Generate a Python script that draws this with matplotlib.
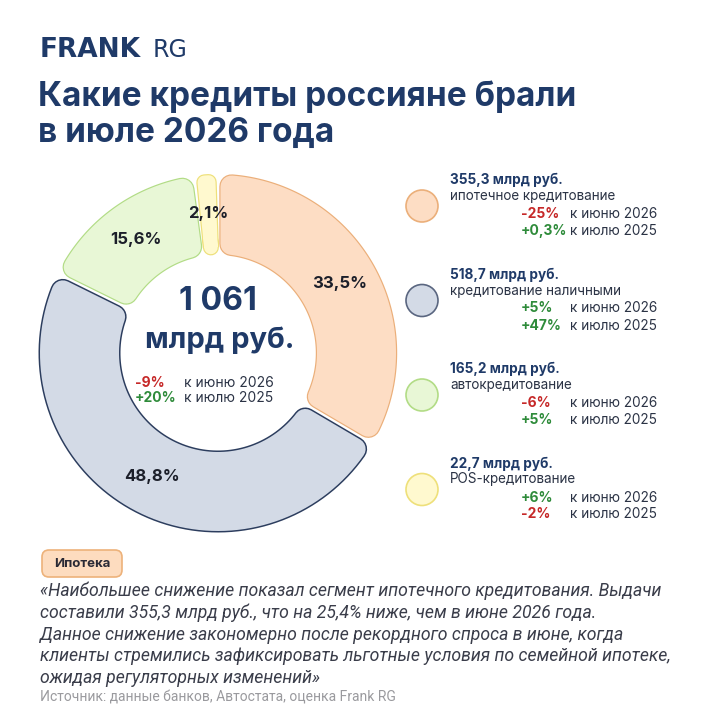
import matplotlib
matplotlib.use("Agg")
import matplotlib.pyplot as plt
import numpy as np
from matplotlib.path import Path
from matplotlib.patches import Circle, FancyBboxPatch, PathPatch

# data
segments = ["ипотечное кредитование", "кредитование наличными",
            "автокредитование", "POS-кредитование"]
volumes = [355.3, 518.7, 165.2, 22.7]          # млрд руб.
vs_june = ["-25%", "+5%", "-6%", "+6%"]
vs_last_july = ["+0,3%", "+47%", "+5%", "-2%"]
total_label = "1 061"
total_vs_june = "-9%"
total_vs_july = "+20%"

face_colors = ["#FDDDC4", "#D3DAE6", "#E8F7D6", "#FFF9CF"]
edge_colors = ["#EBAF7A", "#2C3D5E", "#B2DC86", "#EEE07A"]

NAVY = "#1F3A68"
TEXT = "#2B3345"
RED = "#C62828"
GREEN = "#2E8B3A"
HEAD = "Inter"

quote = ("«Наибольшее снижение показал сегмент ипотечного кредитования. Выдачи\n"
         "составили 355,3 млрд руб., что на 25,4% ниже, чем в июне 2026 года.\n"
         "Данное снижение закономерно после рекордного спроса в июне, когда\n"
         "клиенты стремились зафиксировать льготные условия по семейной ипотеке,\n"
         "ожидая регуляторных изменений»")
source = "Источник: данные банков, Автостата, оценка Frank RG"


def sign_color(s):
    return RED if s.startswith("-") else GREEN


def rounded_sector(a0, a1, r_in, r_out, d):
    """annular sector from a0 down to a1 (deg, clockwise), radial sides
    pulled in parallel by d so the gap has constant width"""
    def ends(r):
        off = np.degrees(np.arcsin(min(d / r, 1)))
        s, e = a0 - off, a1 + off
        if s < e:
            s = e = (a0 + a1) / 2
        return s, e
    so, eo = ends(r_out)
    si, ei = ends(r_in)
    t_out = np.radians(np.linspace(so, eo, 80))
    t_in = np.radians(np.linspace(ei, si, 80))
    xs = np.r_[r_out * np.cos(t_out), r_in * np.cos(t_in)]
    ys = np.r_[r_out * np.sin(t_out), r_in * np.sin(t_in)]
    verts = np.c_[xs, ys]
    verts = np.vstack([verts, verts[:1]])
    codes = [Path.MOVETO] + [Path.LINETO] * (len(verts) - 2) + [Path.CLOSEPOLY]
    return Path(verts, codes)


fig = plt.figure(figsize=(7.2, 7.2), dpi=100)
fig.patch.set_facecolor("white")

# donut, axes units = pixels
cx, cy = 218, 353
ax = fig.add_axes([(cx - 200) / 720, (720 - cy - 200) / 720, 400 / 720, 400 / 720])
ax.set_xlim(-200, 200)
ax.set_ylim(-200, 200)
ax.set_aspect("equal")
ax.axis("off")

R_OUT, R_IN = 178, 99
corner = 11         # px, rounding radius
half_gap = 2.5
px2pt = 72 / 100

vals = np.array(volumes)
shares = vals / vals.sum() * 100
bounds = 90 - np.r_[0, np.cumsum(vals)] / vals.sum() * 360
for i in range(len(vals)):
    span = np.radians(bounds[i] - bounds[i + 1])
    # thin slices get a smaller rounding so they stay inside their share
    c = min(corner, max(span * (R_IN + R_OUT) / 4 - half_gap, 3))
    path = rounded_sector(bounds[i], bounds[i + 1], R_IN + c,
                          R_OUT - c, half_gap + c)
    border = 3.0 if i == 1 else 2.4
    ax.add_patch(PathPatch(path, facecolor=face_colors[i], edgecolor=edge_colors[i],
                           lw=(2 * c + border) * px2pt, joinstyle="round"))
    ax.add_patch(PathPatch(path, facecolor=face_colors[i], edgecolor=face_colors[i],
                           lw=2 * c * px2pt, joinstyle="round"))
    mid = np.radians((bounds[i] + bounds[i + 1]) / 2)
    rl = 140
    ax.text(rl * np.cos(mid), rl * np.sin(mid),
            f"{shares[i]:.1f}%".replace(".", ","), fontsize=12, fontweight="bold",
            color="#1C1F2A", family=HEAD, ha="center", va="center", zorder=5)

# overlay for text, pixel coordinates
ov = fig.add_axes([0, 0, 1, 1], zorder=3)
ov.set_xlim(0, 720)
ov.set_ylim(720, 0)
ov.axis("off")
ov.patch.set_alpha(0)

ov.text(40, 50, "FRANK", fontsize=19, fontweight="bold", color=NAVY,
        family="DejaVu Sans", va="center", ha="left")
ov.text(153, 50, "RG", fontsize=17, color=NAVY, family="DejaVu Sans",
        va="center", ha="left")
ov.text(38, 97, "Какие кредиты россияне брали", fontsize=24, fontweight="bold",
        color=NAVY, family=HEAD, va="center", ha="left")
ov.text(38, 133, "в июле 2026 года", fontsize=24, fontweight="bold",
        color=NAVY, family=HEAD, va="center", ha="left")

# centre of the donut
ov.text(218, 302, total_label, fontsize=23, fontweight="bold", color=NAVY,
        family=HEAD, ha="center", va="center")
ov.text(220, 340, "млрд руб.", fontsize=21, fontweight="bold", color=NAVY,
        family=HEAD, ha="center", va="center")
for yy, val, lab in [(383, total_vs_june, "к июню 2026"),
                     (398, total_vs_july, "к июлю 2025")]:
    ov.text(135, yy, val, fontsize=10, fontweight="bold", color=sign_color(val),
            family=HEAD, va="center")
    ov.text(184, yy, lab, fontsize=10, color=TEXT, family=HEAD, va="center")

# legend
for i, (name, vol, j, y) in enumerate(zip(segments, volumes, vs_june, vs_last_july)):
    top = 180 + i * 94.5
    ov.add_patch(Circle((422, top + 26), 16, facecolor=face_colors[i],
                        edgecolor=edge_colors[i] if i != 1 else "#5A6680", lw=1.2))
    ov.text(450, top, f"{vol:.1f} млрд руб.".replace(".", ",", 1), fontsize=9.8,
            fontweight="bold", color=NAVY, family=HEAD, va="center")
    ov.text(450, top + 16, name, fontsize=9.7, color=TEXT, family=HEAD, va="center")
    ov.text(521, top + 34, j, fontsize=10, fontweight="bold", color=sign_color(j),
            family=HEAD, va="center")
    ov.text(570, top + 34, "к июню 2026", fontsize=9.8, color=TEXT, family=HEAD,
            va="center")
    ov.text(521, top + 51, y, fontsize=10, fontweight="bold", color=sign_color(y),
            family=HEAD, va="center")
    ov.text(570, top + 51, "к июлю 2025", fontsize=9.8, color=TEXT, family=HEAD,
            va="center")

# bottom note
ov.add_patch(FancyBboxPatch((42, 550), 80, 27,
                            boxstyle="round,pad=0,rounding_size=7",
                            facecolor="#FDDCBF", edgecolor="#EDB27A", lw=1.2))
ov.text(82, 564, "Ипотека", fontsize=9.5, fontweight="bold", color="#2A2A35",
        family=HEAD, ha="center", va="center")
ov.text(40, 582, quote, fontsize=12.7, style="italic", color="#3A3D4A",
        family="Roboto", va="top", ha="left", linespacing=1.24)
ov.text(40, 698, source, fontsize=10, color="#9A9A9E", family="Roboto",
        va="center", ha="left")

fig.savefig("out.png", dpi=100, facecolor="white")
